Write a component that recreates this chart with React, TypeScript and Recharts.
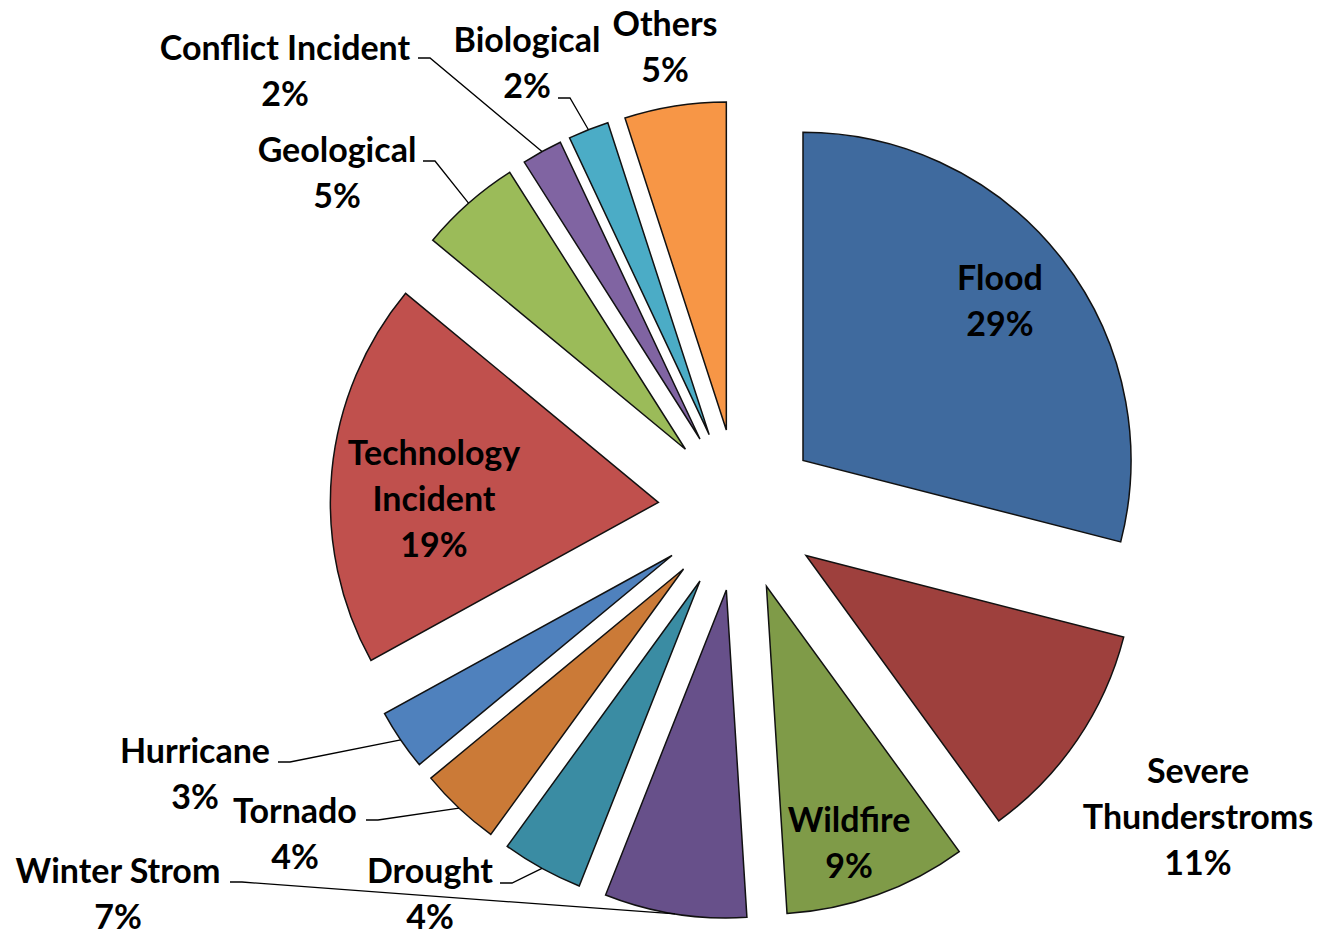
import React from 'react';
import { PieChart, Pie, Cell } from 'recharts';

// ---- data ----
const categories = [
  'Flood',
  'Severe Thunderstroms',
  'Wildfire',
  'Winter Strom',
  'Drought',
  'Tornado',
  'Hurricane',
  'Technology Incident',
  'Geological',
  'Conflict Incident',
  'Biological',
  'Others',
];
const shares = [29, 11, 9, 7, 4, 4, 3, 19, 5, 2, 2, 5];
const labelLines = [
  ['Flood'],
  ['Severe', 'Thunderstroms'],
  ['Wildfire'],
  ['Winter Strom'],
  ['Drought'],
  ['Tornado'],
  ['Hurricane'],
  ['Technology', 'Incident'],
  ['Geological'],
  ['Conflict Incident'],
  ['Biological'],
  ['Others'],
];

// ---- styles / layout ----
const colors = [
  '#3F6A9E', '#9E403D', '#7F9B48', '#67508A', '#3A8CA3', '#CB7A37',
  '#4F81BD', '#C0504D', '#9BBB59', '#8064A2', '#4BACC6', '#F79646',
];
const CX = 739;
const CY = 510;
const RADIUS = 328;
const EXPLODE = 81;
const FONT = 34;
const LINE_H = 46;
const FONT_FAMILY = 'Lato, "Open Sans", sans-serif';
const labelPos = [
  [1000, 278], [1198, 771], [849, 820], [118, 871], [430, 871], [295, 811],
  [195, 751], [434, 453], [337, 150], [285, 48], [527, 40], [665, 24],
];
const leaderStart: (number[] | null)[] = [
  null, null, null, [230, 882], [500, 883], [366, 820],
  [278, 762], null, [423, 161], [418, 58], [558, 98], null,
];

const data = categories.map((name, i) => ({ name, value: shares[i] }));
const total = shares.reduce((a, b) => a + b, 0);
const midClock: number[] = [];
{
  let acc = 0;
  shares.forEach((v) => {
    midClock.push(((acc + v / 2) / total) * 360);
    acc += v;
  });
}
const RAD = Math.PI / 180;

const makeLabel = (i: number) => (props: any) => {
  if (props.index !== i) return null;
  const [lx, ly] = labelPos[i];
  const lines = [...labelLines[i], `${shares[i]}%`];
  const ls = leaderStart[i];
  let leader = null;
  if (ls) {
    const ax = props.cx + props.outerRadius * Math.cos(-props.midAngle * RAD);
    const ay = props.cy + props.outerRadius * Math.sin(-props.midAngle * RAD);
    leader = (
      <polyline
        points={`${ls[0]},${ls[1]} ${ls[0] + 12},${ls[1]} ${ax},${ay}`}
        fill="none"
        stroke="#000"
        strokeWidth={1.3}
      />
    );
  }
  return (
    <g>
      {leader}
      <text
        x={lx}
        y={ly}
        textAnchor="middle"
        fontFamily={FONT_FAMILY}
        fontWeight="bold"
        fontSize={FONT}
        fill="#000"
      >
        {lines.map((t, k) => (
          <tspan key={k} x={lx} y={ly + k * LINE_H + FONT * 0.35}>
            {t}
          </tspan>
        ))}
      </text>
    </g>
  );
};

export default function App() {
  return (
    <div style={{ position: 'absolute', left: 0, top: 0, background: '#fff' }}>
      <PieChart width={1322} height={930} margin={{ top: 0, right: 0, bottom: 0, left: 0 }}>
        {data.map((_, i) => {
          const dx = EXPLODE * Math.sin(midClock[i] * RAD);
          const dy = -EXPLODE * Math.cos(midClock[i] * RAD);
          return (
            <Pie
              key={i}
              data={data}
              dataKey="value"
              nameKey="name"
              cx={CX + dx}
              cy={CY + dy}
              innerRadius={0}
              outerRadius={RADIUS}
              startAngle={90}
              endAngle={-270}
              isAnimationActive={false}
              label={makeLabel(i)}
              labelLine={false}
            >
              {data.map((__, j) => (
                <Cell
                  key={j}
                  fill={j === i ? colors[j] : 'none'}
                  stroke={j === i ? '#111' : 'none'}
                  strokeWidth={1.5}
                />
              ))}
            </Pie>
          );
        })}
      </PieChart>
    </div>
  );
}
